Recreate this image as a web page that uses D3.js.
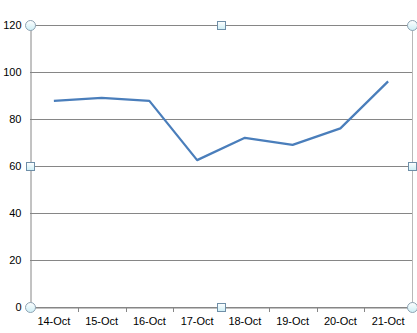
<!DOCTYPE html>
<html><head><meta charset="utf-8">
<script src="https://cdn.jsdelivr.net/npm/d3@7"></script>
<style>html,body{margin:0;padding:0;background:#fff;}svg{display:block;}</style>
</head><body>
<script>
const categories = ["14-Oct","15-Oct","16-Oct","17-Oct","18-Oct","19-Oct","20-Oct","21-Oct"];
const values = [87.7, 89, 87.7, 62.5, 72, 69, 76, 96];
const yTicks = [0,20,40,60,80,100,120];

const W=417,H=333;
const L=30,R=412,T=25,B=307;
const svg=d3.select("body").append("svg").attr("width",W).attr("height",H);
const x=d3.scaleBand().domain(categories).range([L,R]);
const y=d3.scaleLinear().domain([0,120]).range([B,T]);
const font="'Liberation Sans', Arial, sans-serif";

// gridlines
svg.append("g").selectAll("line").data(yTicks).join("line")
  .attr("x1",L).attr("x2",R).attr("y1",d=>y(d)+0.5).attr("y2",d=>y(d)+0.5)
  .attr("stroke","#868686").attr("stroke-width",1);
// right border
svg.append("line").attr("x1",R+0.5).attr("x2",R+0.5).attr("y1",T).attr("y2",B)
  .attr("stroke","#b8b8b8");
// y axis
const ya=svg.append("g").attr("transform",`translate(${L+0.5},0)`)
  .call(d3.axisLeft(y).tickValues(yTicks).tickSize(0).tickPadding(9));
ya.select(".domain").attr("stroke","#868686");
ya.selectAll("text").attr("font-family",font).attr("font-size","11px").attr("fill","#000");
// x axis
const xa=svg.append("g").attr("transform",`translate(0,${B+0.5})`)
  .call(d3.axisBottom(x).tickSize(0).tickPadding(10));
xa.select(".domain").attr("stroke","#868686");
xa.selectAll("text").attr("font-family",font).attr("font-size","11px").attr("fill","#000");
svg.append("g").selectAll("line").data(categories.slice(1)).join("line")
  .attr("x1",d=>Math.round(x(d))+0.5).attr("x2",d=>Math.round(x(d))+0.5)
  .attr("y1",B).attr("y2",B+5).attr("stroke","#868686");

// line
const line=d3.line().x((d,i)=>x(categories[i])+x.bandwidth()/2).y(d=>y(d));
svg.append("path").datum(values).attr("d",line).attr("fill","none")
  .attr("stroke","#4a7ebb").attr("stroke-width",2.25).attr("stroke-linejoin","round");

// selection handles
const defs=svg.append("defs");
const g=defs.append("linearGradient").attr("id","hg").attr("x1",0).attr("y1",0).attr("x2",0).attr("y2",1);
g.append("stop").attr("offset","0").attr("stop-color","#ffffff");
g.append("stop").attr("offset","1").attr("stop-color","#cdeef5");
const corners=[[L,T],[R,T],[L,B],[R,B]];
svg.append("g").selectAll("circle").data(corners).join("circle")
  .attr("cx",d=>d[0]+0.5).attr("cy",d=>d[1]+0.5).attr("r",5)
  .attr("fill","url(#hg)").attr("stroke","#8ea3b3").attr("stroke-width",1);
const mids=[[(L+R)/2,T],[L,(T+B)/2],[R,(T+B)/2],[(L+R)/2,B]];
svg.append("g").selectAll("rect").data(mids).join("rect")
  .attr("x",d=>Math.round(d[0])-3.5).attr("y",d=>Math.round(d[1])-3.5).attr("width",8).attr("height",8)
  .attr("fill","url(#hg)").attr("stroke","#6f8fa8").attr("stroke-width",1);
</script>
</body></html>
